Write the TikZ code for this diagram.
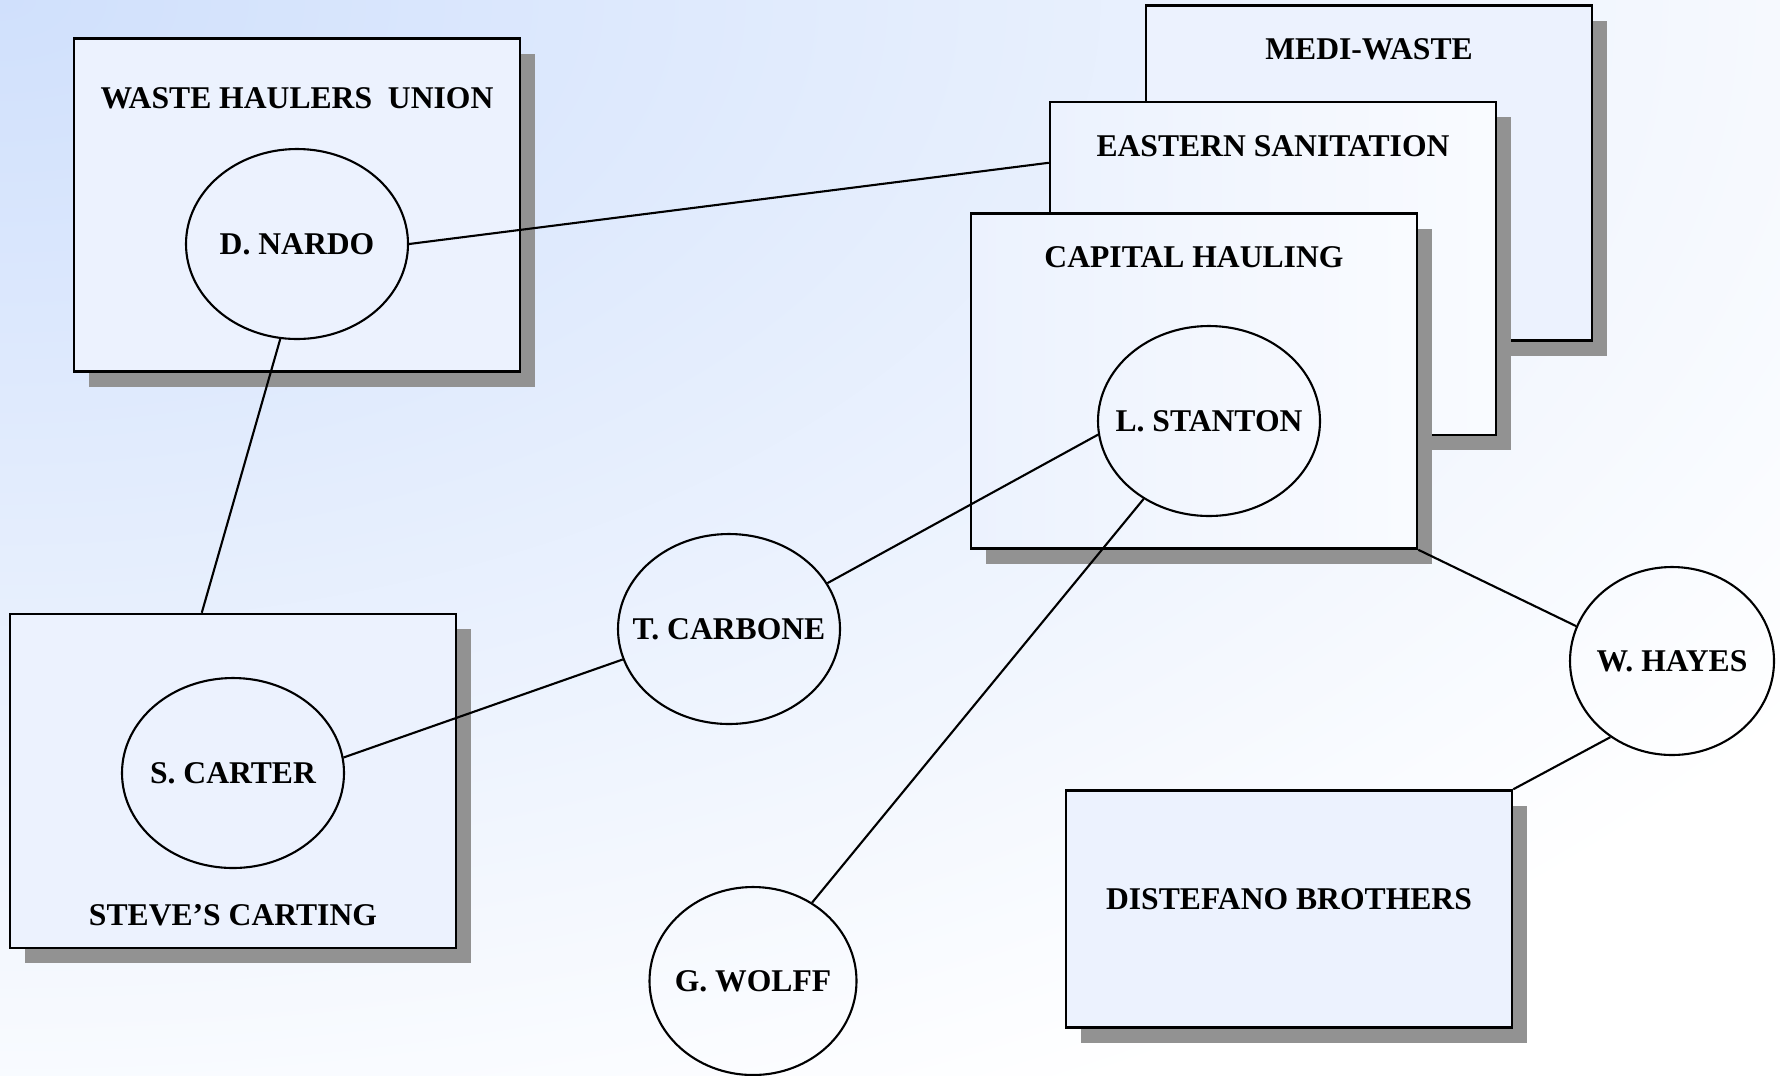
\documentclass[tikz,border=0pt]{standalone}
\usepackage{fontspec}
\setmainfont{Liberation Serif}
\usetikzlibrary{shapes.geometric,shadows,positioning}

\definecolor{bgblue}{RGB}{208,224,252}
\definecolor{boxblue}{RGB}{236,242,254}
\definecolor{shadowgray}{RGB}{146,146,146}

\begin{document}
\begin{tikzpicture}[x=0.1mm, y=-0.1mm,
  txt/.style={font=\fontsize{9}{11}\selectfont\bfseries, inner sep=0pt},
  orgbox/.style={rectangle, draw=black, line width=0.7pt, fill=boxblue,
    minimum width=44.6mm, inner sep=0pt,
    general shadow={fill=shadowgray, shadow xshift=1.5mm, shadow yshift=-1.5mm}},
  fadebox/.style={orgbox, left color=boxblue, right color=white!70!boxblue},
  person/.style={ellipse, draw=black, line width=0.6pt,
    minimum width=22.2mm, minimum height=19mm, inner sep=0pt},
  link/.style={line width=0.6pt}]

  % Background
  \useasboundingbox (0,0) rectangle (1780,1075);
  \begin{scope}
    \clip (0,0) rectangle (1780,1075);
    \fill [white] (0,0) rectangle (1780,1075);
    \shade [inner color=bgblue, outer color=white] (0,0) ellipse (2200 and 1250);
  \end{scope}

  % Companies
  \node [orgbox, minimum height=33.5mm] (medi) at (1369,173) {};
  \node [fadebox, minimum height=33.3mm] (eastern) at (1273,268.5) {};
  \node [fadebox, minimum height=33.5mm] (capital) at (1194,381) {};
  \node [orgbox, minimum height=33.3mm] (waste) at (297,205) {};
  \node [orgbox, minimum height=33.4mm] (steve) at (233,781) {};
  \node [orgbox, minimum height=23.7mm] (distefano) at (1289,909) {};

  \node [txt] (meditxt) at ([yshift=-4.5mm]medi.north) {MEDI-WASTE};
  \node [txt] (easterntxt) at ([yshift=-4.5mm]eastern.north) {EASTERN SANITATION};
  \node [txt] (capitaltxt) at ([yshift=-4.5mm]capital.north) {CAPITAL HAULING};
  \node [txt] (wastetxt) at ([yshift=-6.1mm]waste.north) {WASTE HAULERS\ \ UNION};
  \node [txt] (stevetxt) at ([yshift=3.4mm]steve.south) {STEVE’S CARTING};
  \node [txt] (distefanotxt) at ([yshift=1mm]distefano.center) {DISTEFANO BROTHERS};

  % People
  \node [person, label={[txt]center:D. NARDO}] (nardo) at (297,244) {};
  \node [person, label={[txt]center:S. CARTER}] (carter) at (233,773) {};
  \node [person, label={[txt]center:T. CARBONE}] (carbone) at (729,629) {};
  \node [person, label={[txt]center:L. STANTON}] (stanton) at (1209,421) {};
  \node [person, minimum width=20.7mm, minimum height=18.8mm,
    label={[txt]center:G. WOLFF}] (wolff) at (753,981) {};
  \node [person, minimum width=20.4mm, minimum height=18.8mm,
    label={[txt]center:W. HAYES}] (hayes) at (1672,661) {};

  % Links
  \coordinate (eastin) at ([yshift=-6.2mm]eastern.north west);
  \coordinate (stevein) at ([xshift=19.3mm]steve.north west);

  \draw [link] (nardo.east) -- (eastin);
  \draw [link] (nardo.260) -- (stevein);
  \draw [link] (carter.8) -- (carbone.196);
  \draw [link] (carbone.25) -- (stanton.187);
  \draw [link] (stanton.230) -- (wolff.53);
  \draw [link] (capital.south east) -- (hayes.160);
  \draw [link] (hayes.231) -- (distefano.north east);

\end{tikzpicture}
\end{document}
